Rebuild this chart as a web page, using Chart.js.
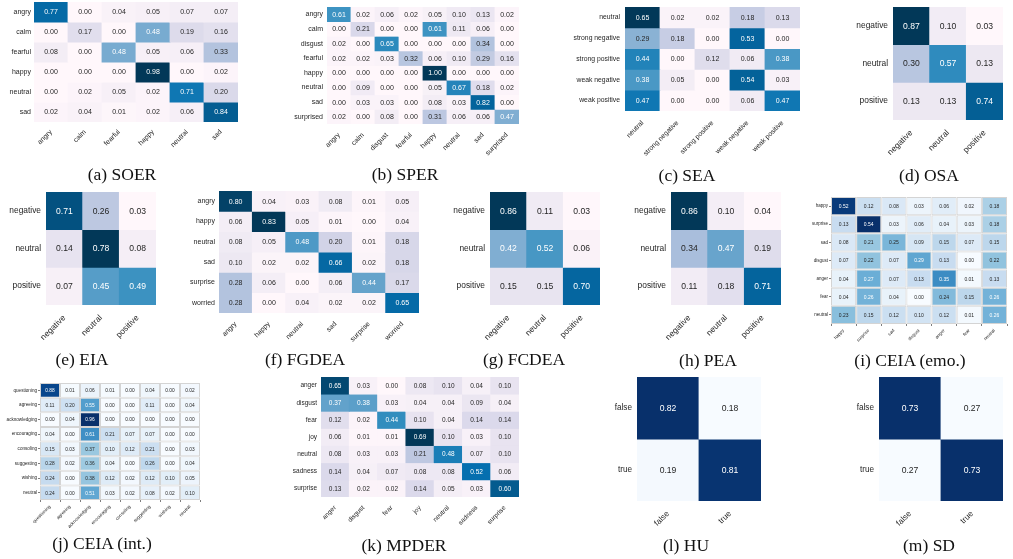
<!DOCTYPE html>
<html>
<head>
<meta charset="utf-8">
<script src="https://cdn.jsdelivr.net/npm/chart.js@4.4.0/dist/chart.umd.min.js"></script>
<style>
  body { margin: 0; background: #fff; }
  #page { position: relative; width: 1013px; height: 559px; overflow: hidden; background: #fff; }
  canvas { position: absolute; }
  .cap { position: absolute; font-family: "Liberation Serif", "DejaVu Serif", serif; font-size: 17.5px; color: #111;
         white-space: nowrap; transform: translate(-50%, -50%); }
</style>
</head>
<body>
<div id="page"></div>
<script>
// ---- data ----
const soerLabels = ['angry', 'calm', 'fearful', 'happy', 'neutral', 'sad'];
const soerValues = [
  [0.77, 0.00, 0.04, 0.05, 0.07, 0.07],
  [0.00, 0.17, 0.00, 0.48, 0.19, 0.16],
  [0.08, 0.00, 0.48, 0.05, 0.06, 0.33],
  [0.00, 0.00, 0.00, 0.98, 0.00, 0.02],
  [0.00, 0.02, 0.05, 0.02, 0.71, 0.20],
  [0.02, 0.04, 0.01, 0.02, 0.06, 0.84]
];

const sperLabels = ['angry', 'calm', 'disgust', 'fearful', 'happy', 'neutral', 'sad', 'surprised'];
const sperValues = [
  [0.61, 0.02, 0.06, 0.02, 0.05, 0.10, 0.13, 0.02],
  [0.00, 0.21, 0.00, 0.00, 0.61, 0.11, 0.06, 0.00],
  [0.02, 0.00, 0.65, 0.00, 0.00, 0.00, 0.34, 0.00],
  [0.02, 0.02, 0.03, 0.32, 0.06, 0.10, 0.29, 0.16],
  [0.00, 0.00, 0.00, 0.00, 1.00, 0.00, 0.00, 0.00],
  [0.00, 0.09, 0.00, 0.00, 0.05, 0.67, 0.18, 0.02],
  [0.00, 0.03, 0.03, 0.00, 0.08, 0.03, 0.82, 0.00],
  [0.02, 0.00, 0.08, 0.00, 0.31, 0.06, 0.06, 0.47]
];

const seaLabels = ['neutral', 'strong negative', 'strong positive', 'weak negative', 'weak positive'];
const seaValues = [
  [0.65, 0.02, 0.02, 0.18, 0.13],
  [0.29, 0.18, 0.00, 0.53, 0.00],
  [0.44, 0.00, 0.12, 0.06, 0.38],
  [0.38, 0.05, 0.00, 0.54, 0.03],
  [0.47, 0.00, 0.00, 0.06, 0.47]
];

const polarityLabels = ['negative', 'neutral', 'positive'];
const osaValues = [
  [0.87, 0.10, 0.03],
  [0.30, 0.57, 0.13],
  [0.13, 0.13, 0.74]
];
const eiaValues = [
  [0.71, 0.26, 0.03],
  [0.14, 0.78, 0.08],
  [0.07, 0.45, 0.49]
];
const fcdeaValues = [
  [0.86, 0.11, 0.03],
  [0.42, 0.52, 0.06],
  [0.15, 0.15, 0.70]
];
const peaValues = [
  [0.86, 0.10, 0.04],
  [0.34, 0.47, 0.19],
  [0.11, 0.18, 0.71]
];

const fgdeaLabels = ['angry', 'happy', 'neutral', 'sad', 'surprise', 'worried'];
const fgdeaValues = [
  [0.80, 0.04, 0.03, 0.08, 0.01, 0.05],
  [0.06, 0.83, 0.05, 0.01, 0.00, 0.04],
  [0.08, 0.05, 0.48, 0.20, 0.01, 0.18],
  [0.10, 0.02, 0.02, 0.66, 0.02, 0.18],
  [0.28, 0.06, 0.00, 0.06, 0.44, 0.17],
  [0.28, 0.00, 0.04, 0.02, 0.02, 0.65]
];

const ceiaEmoLabels = ['happy', 'surprise', 'sad', 'disgust', 'anger', 'fear', 'neutral'];
const ceiaEmoValues = [
  [0.52, 0.12, 0.08, 0.03, 0.06, 0.02, 0.18],
  [0.13, 0.54, 0.03, 0.06, 0.04, 0.03, 0.18],
  [0.08, 0.21, 0.25, 0.09, 0.15, 0.07, 0.15],
  [0.07, 0.22, 0.07, 0.29, 0.13, 0.00, 0.22],
  [0.04, 0.27, 0.07, 0.13, 0.35, 0.01, 0.13],
  [0.04, 0.26, 0.04, 0.00, 0.24, 0.15, 0.26],
  [0.23, 0.15, 0.12, 0.10, 0.12, 0.01, 0.26]
];

const ceiaIntLabels = ['questioning', 'agreeing', 'acknowledging', 'encouraging', 'consoling', 'suggesting', 'wishing', 'neutral'];
const ceiaIntValues = [
  [0.88, 0.01, 0.06, 0.01, 0.00, 0.04, 0.00, 0.02],
  [0.11, 0.20, 0.55, 0.00, 0.00, 0.11, 0.00, 0.04],
  [0.00, 0.04, 0.96, 0.00, 0.00, 0.00, 0.00, 0.00],
  [0.04, 0.00, 0.61, 0.21, 0.07, 0.07, 0.00, 0.00],
  [0.15, 0.03, 0.37, 0.10, 0.12, 0.21, 0.00, 0.03],
  [0.28, 0.02, 0.36, 0.04, 0.00, 0.26, 0.00, 0.04],
  [0.24, 0.00, 0.38, 0.12, 0.02, 0.12, 0.10, 0.05],
  [0.24, 0.00, 0.51, 0.03, 0.02, 0.08, 0.02, 0.10]
];

const mpderLabels = ['anger', 'disgust', 'fear', 'joy', 'neutral', 'sadness', 'surprise'];
const mpderValues = [
  [0.65, 0.03, 0.00, 0.08, 0.10, 0.04, 0.10],
  [0.37, 0.38, 0.03, 0.04, 0.04, 0.09, 0.04],
  [0.12, 0.02, 0.44, 0.10, 0.04, 0.14, 0.14],
  [0.06, 0.01, 0.01, 0.69, 0.10, 0.03, 0.10],
  [0.08, 0.03, 0.03, 0.21, 0.48, 0.07, 0.10],
  [0.14, 0.04, 0.07, 0.08, 0.08, 0.52, 0.06],
  [0.13, 0.02, 0.02, 0.14, 0.05, 0.03, 0.60]
];

const boolLabels = ['false', 'true'];
const huValues = [
  [0.82, 0.18],
  [0.19, 0.81]
];
const sdValues = [
  [0.73, 0.27],
  [0.27, 0.73]
];

// ---- colour maps (matplotlib PuBu / Blues anchors) ----
const PUBU = ['#fff7fb', '#ece7f2', '#d0d1e6', '#a6bddb', '#74a9cf', '#3690c0', '#0570b0', '#045a8d', '#023858'];
const BLUES = ['#f7fbff', '#deebf7', '#c6dbef', '#9ecae1', '#6baed6', '#4292c6', '#2171b5', '#08519c', '#08306b'];

function hexRgb(h) { return [1, 3, 5].map(i => parseInt(h.slice(i, i + 2), 16)); }
function cmap(stops, t) {
  t = Math.min(1, Math.max(0, t)) * (stops.length - 1);
  const i = Math.min(Math.floor(t), stops.length - 2), f = t - i;
  const a = hexRgb(stops[i]), b = hexRgb(stops[i + 1]);
  return a.map((v, k) => Math.round(v + (b[k] - v) * f));
}
function luminance(rgb) {
  const c = rgb.map(v => {
    v = v / 255;
    return v <= 0.03928 ? v / 12.92 : Math.pow((v + 0.055) / 1.055, 2.4);
  });
  return 0.2126 * c[0] + 0.7152 * c[1] + 0.0722 * c[2];
}

// ---- panels: matrix box in page pixels ----
const panels = [
  { cap: '(a) SOER', labels: soerLabels, values: soerValues, map: PUBU, x: 34, y: 2, w: 204, h: 120, font: 7, annot: 7, pad: 3, capX: 122, capY: 174 },
  { cap: '(b) SPER', labels: sperLabels, values: sperValues, map: PUBU, x: 327, y: 7, w: 192, h: 117, font: 7, annot: 7, pad: 4, capX: 405, capY: 174 },
  { cap: '(c) SEA', labels: seaLabels, values: seaValues, map: PUBU, x: 625, y: 7, w: 175, h: 104, font: 6.8, annot: 7, pad: 5, capX: 687, capY: 175 },
  { cap: '(d) OSA', labels: polarityLabels, values: osaValues, map: PUBU, x: 893, y: 7, w: 110, h: 113, font: 8.4, annot: 8.6, pad: 5, capX: 929, capY: 175 },
  { cap: '(e) EIA', labels: polarityLabels, values: eiaValues, map: PUBU, x: 46, y: 192, w: 110, h: 113, font: 8.4, annot: 8.6, pad: 5, capX: 82, capY: 359 },
  { cap: '(f) FGDEA', labels: fgdeaLabels, values: fgdeaValues, map: PUBU, x: 219, y: 191, w: 200, h: 122, font: 7, annot: 7, pad: 4, capX: 305, capY: 359 },
  { cap: '(g) FCDEA', labels: polarityLabels, values: fcdeaValues, map: PUBU, x: 490, y: 192, w: 110, h: 113, font: 8.4, annot: 8.6, pad: 5, capX: 524, capY: 359 },
  { cap: '(h) PEA', labels: polarityLabels, values: peaValues, map: PUBU, x: 671, y: 192, w: 110, h: 113, font: 8.4, annot: 8.6, pad: 5, capX: 708, capY: 360 },
  { cap: '(i) CEIA (emo.)', labels: ceiaEmoLabels, values: ceiaEmoValues, map: BLUES, grid: true, x: 831, y: 197, w: 176, h: 127, font: 4.5, annot: 5, pad: 1, capX: 910, capY: 360 },
  { cap: '(j) CEIA (int.)', labels: ceiaIntLabels, values: ceiaIntValues, map: BLUES, grid: true, x: 40, y: 383, w: 160, h: 117, font: 4.6, annot: 4.8, pad: 1, capX: 102, capY: 543 },
  { cap: '(k) MPDER', labels: mpderLabels, values: mpderValues, map: PUBU, x: 321, y: 377, w: 198, h: 120, font: 6.5, annot: 6.5, pad: 4, capX: 404, capY: 545 },
  { cap: '(l) HU', labels: boolLabels, values: huValues, map: BLUES, x: 637, y: 377, w: 124, h: 124, font: 8.2, annot: 8.6, pad: 5, capX: 686, capY: 545 },
  { cap: '(m) SD', labels: boolLabels, values: sdValues, map: BLUES, x: 879, y: 377, w: 124, h: 124, font: 8.2, annot: 8.6, pad: 5, capX: 929, capY: 545 }
];

const page = document.getElementById('page');
const TEXT = '#262626';

function cellTextPlugin(p) {
  return {
    id: 'cellText',
    afterDatasetsDraw(chart) {
      const ctx = chart.ctx;
      ctx.save();
      ctx.font = p.annot + 'px "Liberation Sans", Arial, sans-serif';
      ctx.textAlign = 'center';
      ctx.textBaseline = 'middle';
      chart.data.datasets.forEach((ds, i) => {
        chart.getDatasetMeta(i).data.forEach((el, j) => {
          const pt = el.getCenterPoint();
          ctx.fillStyle = luminance(ds.rgb[j]) > 0.408 ? TEXT : '#ffffff';
          ctx.fillText(ds.values[j].toFixed(2), pt.x, pt.y + 0.5);
        });
      });
      ctx.restore();
    }
  };
}

function makeHeatmap(p) {
  const padL = 90, padT = 8, padR = 12, padB = 64;
  const cv = document.createElement('canvas');
  cv.width = padL + p.w + padR;
  cv.height = padT + p.h + padB;
  cv.style.left = (p.x - padL) + 'px';
  cv.style.top = (p.y - padT) + 'px';
  page.appendChild(cv);

  const flat = p.values.flat();
  const lo = Math.min(...flat), hi = Math.max(...flat);

  const datasets = p.labels.map((row, i) => {
    const rgb = p.values[i].map(v => cmap(p.map, (v - lo) / (hi - lo)));
    return {
      label: row,
      data: p.labels.map(() => 1),
      values: p.values[i],
      rgb: rgb,
      backgroundColor: rgb.map(c => `rgb(${c[0]},${c[1]},${c[2]})`),
      borderWidth: p.grid ? 1 : 0,
      borderColor: '#d4d4d4',
      borderSkipped: false,
      inflateAmount: p.grid ? 0 : 0.4,
      barPercentage: 1,
      categoryPercentage: 1
    };
  });

  const tickFont = { family: '"Liberation Sans", Arial, sans-serif', size: p.font };
  const grid = {
    display: !!p.grid,
    drawOnChartArea: false,
    drawTicks: !!p.grid,
    tickLength: p.grid ? 2 : 0,
    color: TEXT,
    lineWidth: 0.6
  };

  new Chart(cv.getContext('2d'), {
    type: 'bar',
    data: { labels: p.labels, datasets: datasets },
    options: {
      responsive: false,
      animation: false,
      devicePixelRatio: 1,
      layout: { padding: { left: 0, top: padT, right: padR, bottom: 0 } },
      plugins: { legend: { display: false }, tooltip: { enabled: false } },
      scales: {
        x: {
          type: 'category',
          stacked: true,
          offset: true,
          grid: grid,
          border: { display: false },
          ticks: { maxRotation: 45, minRotation: 45, autoSkip: false, padding: p.pad + (p.grid ? 1 : 3), font: tickFont, color: TEXT },
          afterFit(s) { s.height = padB; s.paddingLeft = 0; s.paddingRight = 0; }
        },
        y: {
          type: 'linear',
          stacked: true,
          min: 0,
          max: p.labels.length,
          reverse: true,
          grid: grid,
          border: { display: false },
          afterBuildTicks(s) { s.ticks = p.labels.map((_, i) => ({ value: i + 0.5 })); },
          ticks: { autoSkip: false, padding: p.pad, font: tickFont, color: TEXT, callback: (v, i) => p.labels[i] },
          afterFit(s) { s.width = padL; s.paddingTop = 0; s.paddingBottom = 0; }
        }
      }
    },
    plugins: [cellTextPlugin(p)]
  });

  const cap = document.createElement('div');
  cap.className = 'cap';
  cap.textContent = p.cap;
  cap.style.left = p.capX + 'px';
  cap.style.top = p.capY + 'px';
  page.appendChild(cap);
}

panels.forEach(makeHeatmap);
</script>
</body>
</html>
